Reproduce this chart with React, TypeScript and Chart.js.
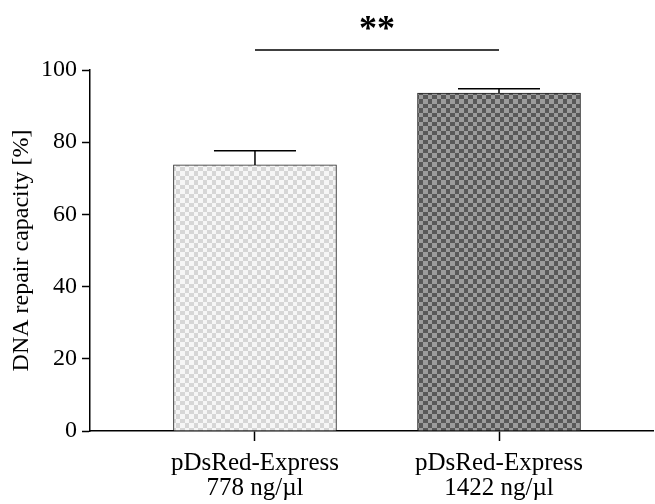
import React, { useEffect, useRef } from "react";
import { Chart, registerables } from "chart.js";

Chart.register(...registerables);

const groups = [
  ["pDsRed-Express", "778 ng/µl"],
  ["pDsRed-Express", "1422 ng/µl"],
];
const positions = [1, 2];
const means = [73.7, 93.6];
const errors = [3.9, 1.2];
const significance = "**";
const yTicks = [0, 20, 40, 60, 80, 100];

const FONT = "'Liberation Serif', 'Times New Roman', serif";

function checker(light: string, dark: string): CanvasPattern | string {
  const tile = document.createElement("canvas");
  tile.width = 9;
  tile.height = 9;
  const g = tile.getContext("2d");
  if (!g) return light;
  g.fillStyle = dark;
  g.fillRect(0, 0, 9, 9);
  g.fillStyle = light;
  g.fillRect(0, 0, 5, 5);
  g.fillRect(5, 5, 4, 4);
  const ctx = document.createElement("canvas").getContext("2d");
  return (ctx && ctx.createPattern(tile, "repeat")) || light;
}

const annotations = {
  id: "annotations",
  afterDatasetsDraw(chart: any) {
    const { ctx, scales } = chart;
    const x = scales.x;
    const y = scales.y;
    ctx.save();
    ctx.strokeStyle = "#000";
    ctx.lineWidth = 1.5;
    const half = 41;
    positions.forEach((p, i) => {
      const cx = x.getPixelForValue(p);
      const top = y.getPixelForValue(means[i] + errors[i]);
      const base = y.getPixelForValue(means[i]);
      ctx.beginPath();
      ctx.moveTo(cx, base);
      ctx.lineTo(cx, top);
      ctx.moveTo(cx - half, top);
      ctx.lineTo(cx + half, top);
      ctx.stroke();
    });
    // significance bracket
    const x1 = x.getPixelForValue(positions[0]);
    const x2 = x.getPixelForValue(positions[1]);
    const ly = 50;
    ctx.beginPath();
    ctx.moveTo(x1, ly);
    ctx.lineTo(x2, ly);
    ctx.stroke();
    ctx.fillStyle = "#000";
    ctx.font = `bold 36px ${FONT}`;
    ctx.textAlign = "center";
    ctx.textBaseline = "alphabetic";
    ctx.fillText(significance, (x1 + x2) / 2, 40);
    ctx.restore();
  },
};

export default function App() {
  const ref = useRef<HTMLCanvasElement>(null);

  useEffect(() => {
    document.body.style.margin = "0";
    const canvas = ref.current;
    if (!canvas) return;
    const fills = [checker("#f6f6f6", "#d6d6d6"), checker("#9c9c9c", "#595959")];
    const chart = new Chart(canvas, {
      type: "bar",
      data: {
        datasets: [
          {
            data: positions.map((p, i) => ({ x: p, y: means[i] })),
            backgroundColor: fills as any,
            borderColor: "#222",
            borderWidth: 1,
            barThickness: 163,
          },
        ],
      },
      options: {
        responsive: false,
        animation: false,
        layout: { padding: { top: 70, right: 2, left: 0, bottom: 0 } },
        plugins: { legend: { display: false }, tooltip: { enabled: false } },
        scales: {
          x: {
            type: "linear",
            min: 0.324,
            max: 2.631,
            offset: false,
            afterBuildTicks: (s: any) => {
              s.ticks = positions.map((v) => ({ value: v }));
            },
            afterFit: (s: any) => {
              s.height = 73;
            },
            grid: {
              offset: false,
              drawOnChartArea: false,
              tickLength: 10,
              tickColor: "#000",
              tickWidth: 1.5,
            },
            border: { color: "#000", width: 1.5 },
            ticks: {
              color: "#000",
              padding: 10,
              maxRotation: 0,
              autoSkip: false,
              font: { family: FONT, size: 25, lineHeight: 1.0 },
              callback: (v: any) => {
                const i = positions.indexOf(Number(v));
                return i >= 0 ? groups[i] : "";
              },
            },
          },
          y: {
            min: 0,
            max: 100,
            afterBuildTicks: (s: any) => {
              s.ticks = yTicks.map((v) => ({ value: v }));
            },
            afterFit: (s: any) => {
              s.width = 90;
            },
            grid: {
              drawOnChartArea: false,
              tickLength: 8,
              tickColor: "#000",
              tickWidth: 1.5,
            },
            border: { color: "#000", width: 1.5 },
            ticks: {
              color: "#000",
              padding: 5,
              font: { family: FONT, size: 24 },
            },
            title: {
              display: true,
              text: "DNA repair capacity [%]",
              color: "#000",
              padding: { top: 7, bottom: 4 },
              font: { family: FONT, size: 24 },
            },
          },
        },
      },
      plugins: [annotations],
    });
    return () => chart.destroy();
  }, []);

  return <canvas ref={ref} width={655} height={504} style={{ display: "block" }} />;
}
